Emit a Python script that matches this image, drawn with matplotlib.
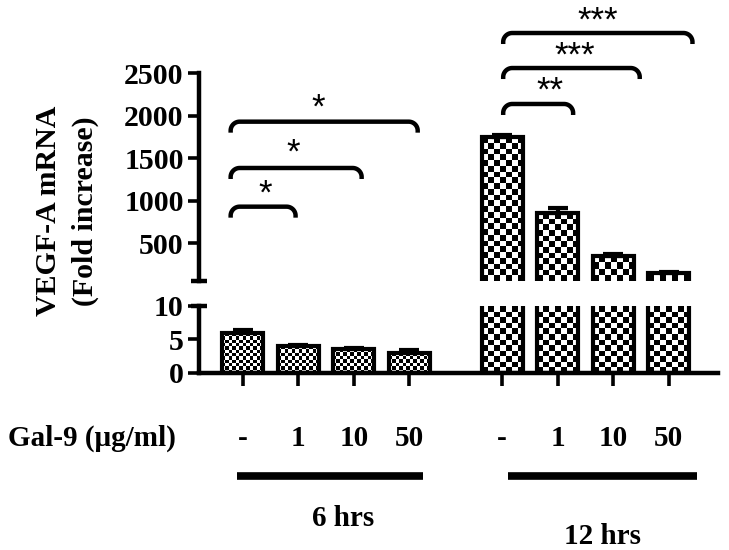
import numpy as np
import matplotlib
matplotlib.use("Agg")
import matplotlib.pyplot as plt
import matplotlib.transforms as mtransforms
from matplotlib.transforms import IdentityTransform

# ---------------- data ----------------
doses = ["-", "1", "10", "50"]
groups = ["6 hrs", "12 hrs"]
means_6h = [5.9, 4.0, 3.55, 3.0]
errs_6h = [0.5, 0.1, 0.15, 0.35]
means_12h = [1750, 856, 350, 150]
errs_12h = [20, 65, 30, 10]
x_6h = [0, 1, 2, 3]
x_12h = [4.67, 5.67, 6.67, 7.67]

# significance brackets: (x_left, x_right, y (upper-axis units), label, x_label, y_label)
brackets = [
    (-0.22, 0.95, 931, "*", 0.41, 1080),
    (-0.22, 2.14, 1386, "*", 0.90, 1560),
    (-0.22, 3.15, 1931, "*", 1.35, 2095),
    (4.69, 5.95, 2139, "**", 5.53, 2290),
    (4.69, 7.15, 2562, "***", 5.98, 2700),
    (4.69, 8.10, 2974, "***", 6.40, 3110),
]
group_lines = [(-0.11, 3.24), (4.77, 8.18)]
group_label_x = [1.80, 6.48]
group_label_y = [1 - 519 / 550, 1 - 537 / 550]

W, H = 729, 550
fig = plt.figure(figsize=(W / 100, H / 100), dpi=100)
serif = "Liberation Serif"

left, right = 199 / W, 718 / W
ax_up = fig.add_axes([left, 1 - 280.7 / H, right - left, (280.7 - 73.3) / H])
ax_lo = fig.add_axes([left, 1 - 372.7 / H, right - left, (372.7 - 306) / H])

XLIM = (-0.79, 8.56)
BW = 0.74
spine_lw = 3.2

for ax in (ax_up, ax_lo):
    ax.set_xlim(*XLIM)
    for s in ("top", "right"):
        ax.spines[s].set_visible(False)
    ax.spines["left"].set_linewidth(spine_lw)
    ax.spines["bottom"].set_linewidth(spine_lw)
    ax.tick_params(axis="y", length=8, width=2.6, direction="out", pad=3)

ax_up.set_ylim(60, 2500)
ax_lo.set_ylim(0, 10)
ax_up.spines["bottom"].set_visible(False)
ax_up.set_xticks([])
ax_up.set_yticks([500, 1000, 1500, 2000, 2500])
ax_lo.set_yticks([0, 5, 10])
ax_lo.set_xticks(x_6h + x_12h)
ax_lo.set_xticklabels([])
ax_lo.tick_params(axis="x", length=9, width=2.6, direction="out")

for ax in (ax_up, ax_lo):
    for lab in ax.get_yticklabels():
        lab.set_fontfamily(serif)
        lab.set_fontweight("bold")
        lab.set_fontsize(21.5)


def checker_bars(ax, xs, vals, errs, cell):
    bars = ax.bar(xs, vals, width=BW, facecolor="none", edgecolor="black",
                  linewidth=3.0, zorder=3)
    ax.errorbar(xs, vals, yerr=[np.zeros(len(errs)), errs], fmt="none",
                ecolor="black", elinewidth=3, capsize=7, capthick=3, zorder=4)
    y0lim, y1lim = ax.get_ylim()
    for b in bars:
        bx0, bw = b.get_x(), b.get_width()
        by0 = max(b.get_y(), y0lim)
        by1 = min(b.get_y() + b.get_height(), y1lim)
        if by1 <= by0:
            continue
        p0 = ax.transData.transform((bx0, by0))
        p1 = ax.transData.transform((bx0 + bw, by1))
        nc = max(1, int(round((p1[0] - p0[0]) / cell)))
        nr = max(1, int(round((p1[1] - p0[1]) / cell)))
        arr = (np.indices((nr, nc)).sum(axis=0) % 2).astype(float)
        im = ax.imshow(arr, cmap="gray", extent=(bx0, bx0 + bw, by0, by1),
                       interpolation="nearest", aspect="auto", zorder=2.5,
                       origin="lower", vmin=0, vmax=1)
        im.set_clip_path(b)
    ax.set_xlim(*XLIM)
    ax.set_ylim(y0lim, y1lim)


for ax in (ax_up, ax_lo):
    checker_bars(ax, x_6h, means_6h, errs_6h, 3.4)
    checker_bars(ax, x_12h, means_12h, errs_12h, 5.7)

# break marks
for ax, yy in ((ax_up, 0), (ax_lo, 1)):
    tr = ax.transAxes
    dx = 8 / (ax.get_position().width * W)
    ax.plot([-dx, dx], [yy, yy], transform=tr, color="black", lw=spine_lw,
            clip_on=False, solid_capstyle="butt")


def bracket(ax, x1, x2, y, h=11, r=9, lw=3.2):
    (px1, py), (px2, _) = ax.transData.transform([(x1, y), (x2, y)])
    t = np.linspace(0, np.pi / 2, 20)
    left_arc = np.column_stack([px1 + r - r * np.cos(t), py - r + r * np.sin(t)])
    right_arc = np.column_stack([px2 - r + r * np.sin(t), py - r + r * np.cos(t)])
    pts = np.vstack([[px1, py - h], left_arc, right_arc, [px2, py - h]])
    fig.add_artist(plt.Line2D(pts[:, 0], pts[:, 1], transform=IdentityTransform(),
                              color="black", lw=lw, solid_capstyle="butt"))


for (xl, xr, yb, lab, xt, yt) in brackets:
    bracket(ax_up, xl, xr, yb)
    ax_up.text(xt, yt, lab, ha="center", va="center", fontsize=25,
               fontfamily="Liberation Sans", clip_on=False)

# y label
fig.text(67 / W, 1 - 211 / H, "VEGF-A mRNA\n(Fold increase)", rotation=90,
         ha="center", va="center", multialignment="center", fontsize=21.5,
         fontfamily=serif, fontweight="bold", linespacing=1.45)

# dose row
trb = mtransforms.blended_transform_factory(ax_lo.transData, fig.transFigure)
fig.text(8 / W, 1 - 438 / H, "Gal-9 (\u03bcg/ml)", ha="left", va="center",
         fontsize=21, fontfamily=serif, fontweight="bold")
for xs in (x_6h, x_12h):
    for x, d in zip(xs, doses):
        fig.text(x, 1 - 438 / H, d, transform=trb, ha="center", va="center",
                 fontsize=21, fontfamily=serif, fontweight="bold")

for (xa, xb), gx, gy, g in zip(group_lines, group_label_x, group_label_y, groups):
    fig.add_artist(plt.Line2D([xa, xb], [1 - 476 / H, 1 - 476 / H], transform=trb,
                              color="black", lw=5.5, solid_capstyle="butt"))
    fig.text(gx, gy, g, transform=trb, ha="center", va="center", fontsize=21,
             fontfamily=serif, fontweight="bold")

fig.savefig("out.png", dpi=100)
